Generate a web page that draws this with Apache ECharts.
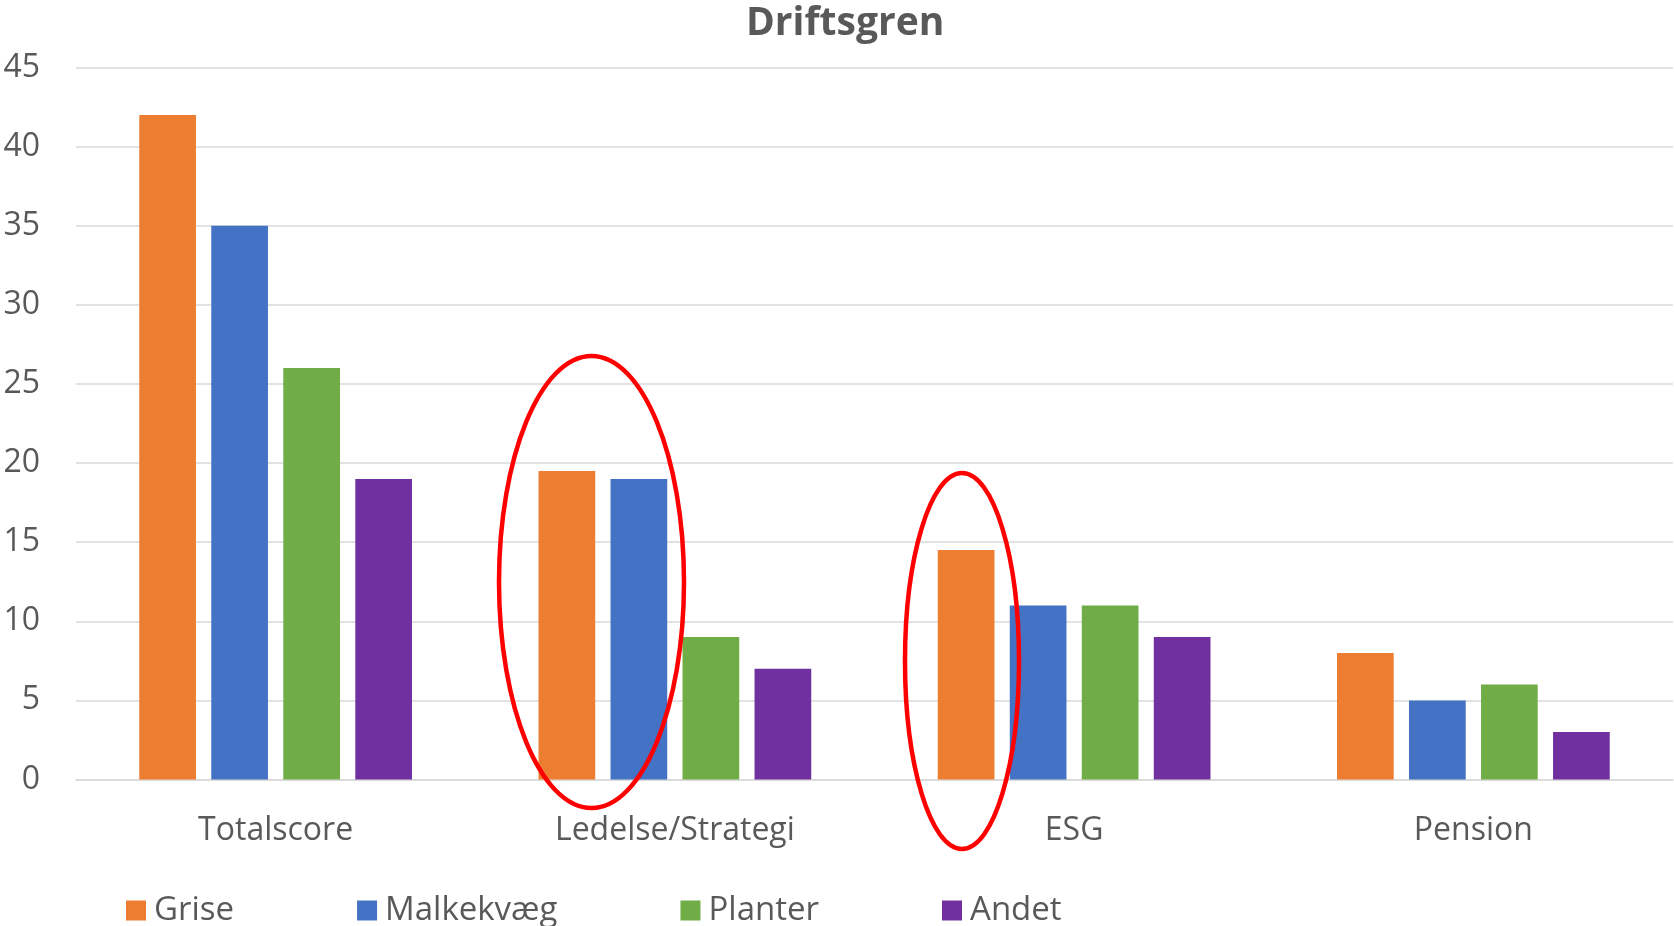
<!DOCTYPE html>
<html>
<head>
<meta charset="utf-8">
<script src="https://cdn.jsdelivr.net/npm/echarts@6/dist/echarts.min.js"></script>
<style>
html,body{margin:0;padding:0;background:#fff;}
#chart{width:1674px;height:926px;}
</style>
</head>
<body>
<div id="chart"></div>
<script>
const categories = ['Totalscore', 'Ledelse/Strategi', 'ESG', 'Pension'];
const seriesNames = ['Grise', 'Malkekvæg', 'Planter', 'Andet'];
const grise = [42, 19.5, 14.5, 8];
const malkekvaeg = [35, 19, 11, 5];
const planter = [26, 9, 11, 6];
const andet = [19, 7, 9, 3];
const colors = ['#ED7D31', '#4472C4', '#70AD47', '#7030A0'];
const yTicks = [0, 5, 10, 15, 20, 25, 30, 35, 40, 45];

const seriesData = [grise, malkekvaeg, planter, andet];
const FONT = '"Open Sans", "Noto Sans", sans-serif';
const TXT = '#595959';

const chart = echarts.init(document.getElementById('chart'));
chart.setOption({
  animation: false,
  backgroundColor: '#fff',
  title: {
    text: 'Driftsgren',
    left: 741,
    top: -1,
    textStyle: {fontFamily: FONT, fontSize: 39, fontWeight: 'bold', color: TXT}
  },
  legend: {
    data: seriesNames,
    left: 121,
    top: 889,
    icon: 'rect',
    itemWidth: 20,
    itemHeight: 20,
    itemGap: 123,
    textStyle: {fontFamily: FONT, fontSize: 33, color: TXT, padding: [0, 0, 0, 3]}
  },
  grid: {left: 76, right: 1, top: 67.5, bottom: 146.5, containLabel: false},
  xAxis: {
    type: 'category',
    data: categories,
    axisTick: {show: false},
    axisLine: {lineStyle: {color: '#D9D9D9', width: 1.5}},
    axisLabel: {fontFamily: FONT, fontSize: 32, color: TXT, margin: 35.5}
  },
  yAxis: {
    type: 'value',
    min: yTicks[0],
    max: yTicks[yTicks.length - 1],
    interval: 5,
    axisLine: {show: false},
    axisTick: {show: false},
    splitLine: {lineStyle: {color: '#D9D9D9', width: 1.5}},
    axisLabel: {fontFamily: FONT, fontSize: 32, color: TXT, margin: 36, padding: [4, 0, 0, 0]}
  },
  series: seriesNames.map((n, i) => ({
    name: n,
    type: 'bar',
    data: seriesData[i],
    barWidth: 56.7,
    barGap: '27%',
    itemStyle: {color: colors[i]}
  })),
  graphic: [
    {type: 'ellipse', shape: {cx: 591.5, cy: 582, rx: 92.5, ry: 226},
     style: {fill: 'none', stroke: '#FF0000', lineWidth: 4.5}, z: 100},
    {type: 'ellipse', shape: {cx: 962, cy: 661, rx: 57, ry: 188},
     style: {fill: 'none', stroke: '#FF0000', lineWidth: 4.5}, z: 100}
  ]
});
</script>
</body>
</html>
